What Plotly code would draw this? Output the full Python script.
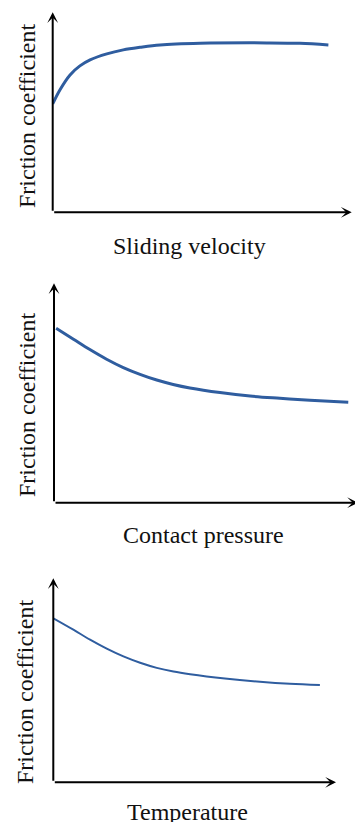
import plotly.graph_objects as go

W, H = 355, 822

# ---- data (arbitrary units, 0-100) ----
vel_x = [0, 2.4, 5.8, 9.1, 12.5, 18.1, 23.6, 29.2, 35.9, 49.3, 71.6, 82.7, 92.2]
vel_y = [54.2, 61.2, 68.7, 73.2, 76.2, 79.2, 81.2, 82.5, 83.7, 84.5, 84.7, 84.5, 83.7]

pres_x = [0.7, 6.4, 11.8, 17.3, 22.8, 28.3, 33.8, 39.2, 44.7, 54.6, 64.5, 74.3, 84.2, 96.8]
pres_y = [79.5, 74.5, 69.8, 65.4, 61.6, 58.5, 55.9, 53.9, 52.3, 50.2, 48.6, 47.6, 46.7, 45.8]

temp_x = [0, 7.1, 13.0, 18.9, 24.8, 30.7, 36.6, 42.5, 48.4, 60.7, 73.1, 83.7, 94.3]
temp_y = [80.4, 74.8, 69.9, 65.5, 61.7, 58.6, 56.1, 54.3, 53.0, 50.9, 49.3, 48.3, 47.7]

x_labels = ["Sliding velocity", "Contact pressure", "Temperature"]
y_label = "Friction coefficient"

# ---- layout geometry (pixels) ----
panels = [
    dict(x0=52.7, xtip=351.7, ybase=212.3, ytop=12.3, lw=3.0, xlab=(190, 246), ylab=(27, 116)),
    dict(x0=54.0, xtip=358.0, ybase=502.7, ytop=283.3, lw=3.0, xlab=(203, 535), ylab=(27, 405)),
    dict(x0=53.3, xtip=336.0, ybase=782.3, ytop=578.3, lw=2.0, xlab=(187, 812), ylab=(25, 692)),
]
series = [(vel_x, vel_y), (pres_x, pres_y), (temp_x, temp_y)]

FONT = "Liberation Serif, Times New Roman, serif"
BLUE = "rgb(47,93,159)"

fig = go.Figure()
layout = dict(width=W, height=H, margin=dict(l=0, r=0, t=0, b=0),
              paper_bgcolor="white", plot_bgcolor="white", showlegend=False)
annotations = []

for i, (p, (xs, ys)) in enumerate(zip(panels, series)):
    n = "" if i == 0 else str(i + 1)
    xr = "x" + n
    yr = "y" + n
    right_px = min(p["xtip"], W)
    dom_x = [p["x0"] / W, right_px / W]
    dom_y = [(H - p["ybase"]) / H, (H - p["ytop"]) / H]
    xmax_dom = (right_px - p["x0"]) / (p["xtip"] - p["x0"]) * 100
    ax_common = dict(showgrid=False, zeroline=False, showline=False,
                     showticklabels=False, ticks="", fixedrange=True)
    layout["xaxis" + n] = dict(domain=dom_x, range=[0, xmax_dom], anchor=yr, **ax_common)
    layout["yaxis" + n] = dict(domain=dom_y, range=[0, 100], anchor=xr, **ax_common)

    fig.add_trace(go.Scatter(x=xs, y=ys, mode="lines", xaxis=xr, yaxis=yr,
                             line=dict(color=BLUE, width=p["lw"], shape="spline", smoothing=1.0),
                             hoverinfo="skip"))

    # axis arrows
    for tip in [(100, 0), (0, 100)]:
        annotations.append(dict(x=tip[0], y=tip[1], ax=0, ay=0, xref=xr, yref=yr,
                                axref=xr, ayref=yr, showarrow=True, arrowhead=3,
                                arrowsize=0.9, arrowwidth=2, arrowcolor="black",
                                text="", standoff=0))
    # labels
    lx, ly = p["xlab"]
    annotations.append(dict(x=lx / W, y=(H - ly) / H, xref="paper", yref="paper",
                            text=x_labels[i], showarrow=False, xanchor="center", yanchor="middle",
                            font=dict(family=FONT, size=24, color="#111111")))
    yx, yy = p["ylab"]
    annotations.append(dict(x=yx / W, y=(H - yy) / H, xref="paper", yref="paper",
                            text=y_label, showarrow=False, textangle=-90,
                            xanchor="center", yanchor="middle",
                            font=dict(family=FONT, size=24, color="#111111")))

layout["annotations"] = annotations
fig.update_layout(**layout)
fig.write_html("out.html")
